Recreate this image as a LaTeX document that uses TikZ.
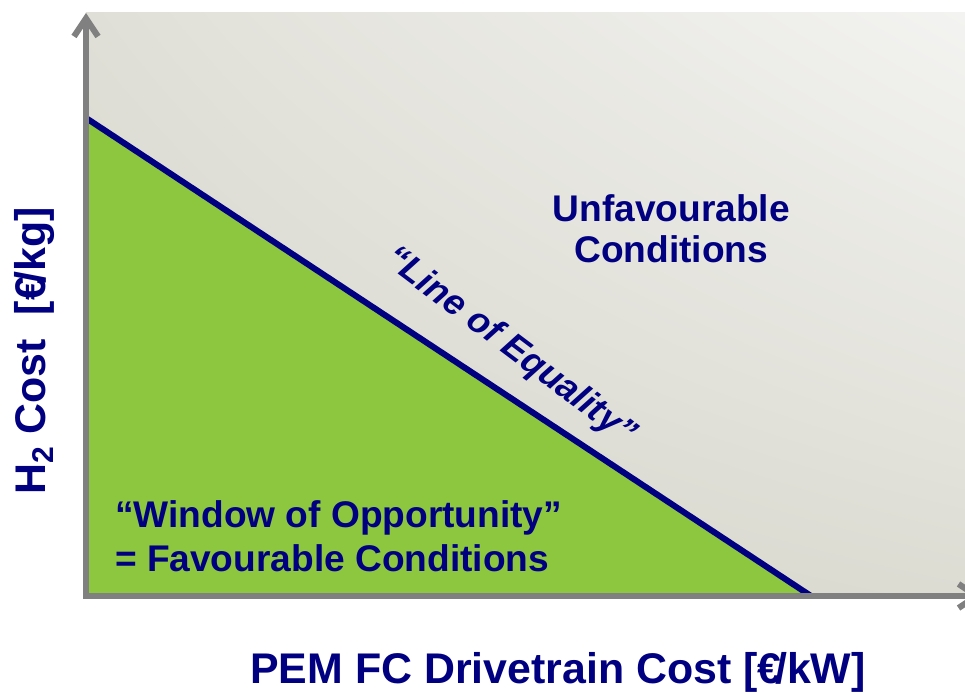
\documentclass[tikz,border=0pt]{standalone}
\usepackage{fontspec}
\setmainfont{Liberation Sans}
\usetikzlibrary{arrows.meta, positioning, shadings}
\definecolor{navyblue}{RGB}{0,0,128}
\definecolor{leafgreen}{RGB}{141,198,63}
\definecolor{axisgray}{RGB}{128,128,128}
\definecolor{bgdark}{RGB}{214,213,203}
\definecolor{bgmid}{RGB}{224,223,215}
\definecolor{bglow}{RGB}{221,220,211}
\definecolor{bglight}{RGB}{243,243,241}
\tikzset{
  region text/.style={text=navyblue, font=\bfseries\fontsize{26.4}{31.5}\selectfont, inner sep=0pt},
  axis text/.style={text=navyblue, font=\bfseries\fontsize{30.5}{36}\selectfont, inner sep=0pt},
  axis line/.style={axisgray, line width=4.3pt, -{Straight Barb[length=0.45cm, width=0.6cm]}},
}

\begin{document}
\begin{tikzpicture}
    \useasboundingbox (-2.15,-2.45) rectangle (21.975,14.9);

    % Plot area
    \coordinate (O) at (0,0);
    \coordinate (ytop) at (0,14.575);
    \coordinate (xend) at (22.4,0);
    \shade[upper left=bgmid, upper right=bglight, lower left=bgdark, lower right=bglow]
        (O) rectangle (21.975,14.575);

    % Favourable region under the line
    \coordinate (A) at (0,11.95);
    \coordinate (B) at (18.125,0);
    \fill[leafgreen] (A) -- (O) -- (B) -- cycle;

    % Line of equality
    \draw[navyblue, line width=4.3pt] (A) -- (B);
    \node[region text, font=\bfseries\itshape\fontsize{25.6}{30.5}\selectfont,
          anchor=base west, rotate=-37] (eq) at (7.42,8.33) {“Line of Equality”};

    % Axes
    \draw[axis line] (-0.075,0) -- (xend);
    \draw[axis line] (0,-0.075) -- (ytop);

    % Region labels
    \node[region text, font=\bfseries\fontsize{26.4}{29}\selectfont, align=center]
        (unfav) at (14.63,9.19) {Unfavourable\\Conditions};
    \node[region text, align=left, anchor=south west] (window) at (0.72,0.6)
        {“Window of Opportunity”\\= Favourable Conditions};

    % Axis labels
    \node[axis text, anchor=base] (xlabel) at (11.8,-2.2) {PEM FC Drivetrain Cost [€\kern-0.15em/kW]};
    \node[axis text, anchor=base, rotate=90] (ylabel) at (-1.025,6.13)
        {H\textsubscript{2} Cost\ \ [€\kern-0.15em/kg]};
\end{tikzpicture}
\end{document}
